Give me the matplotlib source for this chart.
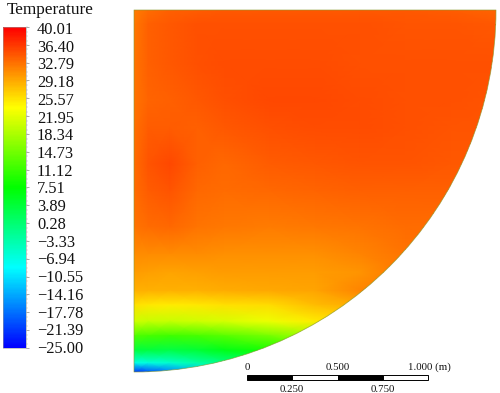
import numpy as np
import matplotlib
matplotlib.use("Agg")
import matplotlib.pyplot as plt
from matplotlib.colors import LinearSegmentedColormap, Normalize
from matplotlib.cm import ScalarMappable
from matplotlib.patches import Wedge, Rectangle

plt.rcParams['font.family'] = ['Liberation Serif', 'DejaVu Serif']

tick_labels = ["40.01", "36.40", "32.79", "29.18", "25.57", "21.95", "18.34", "14.73", "11.12", "7.51",
               "3.89", "0.28", "\u22123.33", "\u22126.94", "\u221210.55", "\u221214.16", "\u221217.78",
               "\u221221.39", "\u221225.00"]
tick_values = [40.01, 36.40, 32.79, 29.18, 25.57, 21.95, 18.34, 14.73, 11.12, 7.51,
               3.89, 0.28, -3.33, -6.94, -10.55, -14.16, -17.78, -21.39, -25.00]
x_m = [0, .08, .2, .35, .5, .75, 1.0, 1.25, 1.5, 1.75, 2.0]
depth_m = [0, .08, .3, .5, .65, .85, 1.0, 1.2, 1.35, 1.45, 1.55, 1.63, 1.72, 1.8, 1.88, 1.95, 2.0]
temperature = [
    [32.0, 33.0, 33.8, 34.0, 34.2, 34.2, 34.2, 34.2, 34.2, 34.0, 33.5],
    [32.3, 33.8, 34.4, 34.7, 34.8, 34.8, 34.8, 34.7, 34.6, 34.6, 34.2],
    [32.5, 33.8, 34.4, 34.8, 35.0, 35.1, 35.0, 34.9, 34.8, 34.8, 34.8],
    [32.5, 33.6, 33.9, 34.4, 34.8, 35.3, 35.2, 35.0, 34.8, 34.7, 34.6],
    [32.8, 34.0, 34.0, 33.8, 34.2, 34.9, 35.0, 35.0, 34.8, 34.6, 34.5],
    [33.0, 34.6, 35.2, 33.8, 33.4, 34.0, 34.4, 34.5, 34.6, 34.4, 34.2],
    [33.0, 34.0, 34.6, 33.4, 32.9, 33.2, 33.6, 33.8, 33.8, 33.8, 33.8],
    [32.5, 33.0, 33.2, 32.6, 32.3, 32.0, 32.2, 32.6, 33.0, 33.0, 33.0],
    [31.0, 31.0, 31.0, 31.0, 30.8, 30.8, 30.8, 31.5, 32.5, 33.0, 33.0],
    [30.0, 29.8, 29.5, 29.8, 30.0, 30.0, 30.0, 30.5, 32.5, 33.0, 33.0],
    [28.8, 28.8, 28.6, 28.8, 29.0, 29.2, 29.5, 31.5, 32.5, 33.0, 33.0],
    [25.6, 25.2, 25.0, 25.2, 25.6, 26.0, 28.0, 29.0, 32.0, 33.0, 33.0],
    [20.5, 20.0, 20.0, 20.5, 21.0, 22.5, 25.0, 26.0, 30.0, 33.0, 33.0],
    [12.5, 12.0, 11.5, 12.0, 13.0, 15.0, 18.0, 22.0, 28.0, 33.0, 33.0],
    [3.5, 3.5, 3.0, 4.0, 6.0, 9.0, 12.0, 18.0, 25.0, 33.0, 33.0],
    [-7.0, -6.5, -5.5, -3.0, -1.0, 2.0, 8.0, 15.0, 25.0, 33.0, 33.0],
    [-22.0, -20.0, -17.0, -12.0, -8.0, 0.0, 6.0, 15.0, 25.0, 33.0, 33.0],
]
scale_marks = [0.0, 0.25, 0.5, 0.75, 1.0]
scale_top = ["0", "0.500", "1.000"]
scale_bottom = ["0.250", "0.750"]

W, H = 500, 393
PX = 181.0   # pixels per metre
OX, OY = 134.0, 10.0

cmap = LinearSegmentedColormap.from_list(
    "rainbow_cfd", ["#0000ff", "#00ffff", "#00ff00", "#ffff00", "#ff0000"])
norm = Normalize(vmin=-25.0, vmax=40.01)

fig = plt.figure(figsize=(W / 100, H / 100), dpi=100)
ax = fig.add_axes([0, 0, 1, 1])
ax.set_xlim((0 - OX) / PX, (W - OX) / PX)
ax.set_ylim((H - OY) / PX, (0 - OY) / PX)
ax.axis('off')

mesh = ax.pcolormesh(np.array(x_m), np.array(depth_m), np.array(temperature),
                     cmap=cmap, norm=norm, shading='gouraud')
clip = Wedge((0, 0), 2.0, 0, 90, transform=ax.transData, fc='none', ec='none')
ax.add_patch(clip)
mesh.set_clip_path(clip)
ax.add_patch(Wedge((0, 0), 2.0, 0, 90, fc='none', ec='#8a9a30', lw=0.6, alpha=0.7))

# scale bar, in metres
sx0 = (247 - OX) / PX
sy0 = (375 - OY) / PX
sh = 5 / PX
for i in range(4):
    ax.add_patch(Rectangle((sx0 + scale_marks[i], sy0), scale_marks[i + 1] - scale_marks[i], sh,
                           fc='black' if i % 2 == 0 else 'white', ec='black', lw=0.7))
ty = (367 - OY) / PX
by = (389 - OY) / PX
fs = 7.8
ax.text(sx0, ty, scale_top[0], ha='center', va='center', fontsize=fs, color='#111')
ax.text(sx0 + scale_marks[2], ty, scale_top[1], ha='center', va='center', fontsize=fs, color='#111')
ax.text(sx0 + scale_marks[4], ty, scale_top[2] + " (m)", ha='left', va='center', fontsize=fs, color='#111',
        transform=ax.transData + matplotlib.transforms.ScaledTranslation(-20 / 100, 0, fig.dpi_scale_trans))
ax.text(sx0 + scale_marks[1], by, scale_bottom[0], ha='center', va='center', fontsize=fs, color='#111')
ax.text(sx0 + scale_marks[3], by, scale_bottom[1], ha='center', va='center', fontsize=fs, color='#111')

# colour bar
cax = fig.add_axes([3 / W, 1 - 348 / H, 23 / W, 321 / H])
cb = fig.colorbar(ScalarMappable(norm=norm, cmap=cmap), cax=cax)
cb.outline.set_linewidth(0.4)
cb.outline.set_edgecolor('#999999')
cb.set_ticks(tick_values)
cb.set_ticklabels([])
cb.minorticks_on()
cax.tick_params(which='major', length=2.5, width=0.5, color='#888888')
cax.tick_params(which='minor', length=1.2, width=0.3, color='#aaaaaa')

lax = fig.add_axes([37 / W, 1 - 349 / H, 60 / W, 319 / H])
lax.set_ylim(-25.0, 40.01)
lax.set_xlim(0, 1)
lax.axis('off')
for v, t in zip(tick_values, tick_labels):
    lax.text(0, v, t, ha='left', va='center', fontsize=11.8, color='#111')

fig.text(7 / W, 1 - 13.5 / H, "Temperature", ha='left', va='baseline', fontsize=12.4, color='#111')
fig.savefig("out.png", dpi=100)
